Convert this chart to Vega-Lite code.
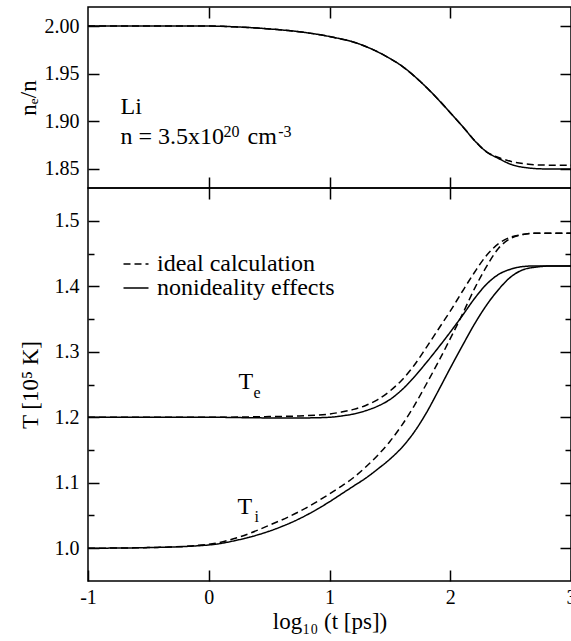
{
  "$schema": "https://vega.github.io/schema/vega-lite/v6.json",
  "padding": {"left": 16, "top": 5, "right": 0, "bottom": 0},
  "spacing": 0,
  "bounds": "flush",
  "datasets": {
    "ne": [
      {"logt": -1, "ratio": 2.0, "model": "ideal calculation"},
      {"logt": -0.5, "ratio": 2.0, "model": "ideal calculation"},
      {"logt": 0, "ratio": 2.0, "model": "ideal calculation"},
      {"logt": 0.25, "ratio": 1.999, "model": "ideal calculation"},
      {"logt": 0.5, "ratio": 1.997, "model": "ideal calculation"},
      {"logt": 0.75, "ratio": 1.994, "model": "ideal calculation"},
      {"logt": 1.0, "ratio": 1.989, "model": "ideal calculation"},
      {"logt": 1.25, "ratio": 1.981, "model": "ideal calculation"},
      {"logt": 1.5, "ratio": 1.966, "model": "ideal calculation"},
      {"logt": 1.6, "ratio": 1.958, "model": "ideal calculation"},
      {"logt": 1.75, "ratio": 1.942, "model": "ideal calculation"},
      {"logt": 1.9, "ratio": 1.923, "model": "ideal calculation"},
      {"logt": 2.0, "ratio": 1.909, "model": "ideal calculation"},
      {"logt": 2.1, "ratio": 1.895, "model": "ideal calculation"},
      {"logt": 2.2, "ratio": 1.88, "model": "ideal calculation"},
      {"logt": 2.3, "ratio": 1.868, "model": "ideal calculation"},
      {"logt": 2.4, "ratio": 1.862, "model": "ideal calculation"},
      {"logt": 2.5, "ratio": 1.858, "model": "ideal calculation"},
      {"logt": 2.65, "ratio": 1.855, "model": "ideal calculation"},
      {"logt": 2.8, "ratio": 1.854, "model": "ideal calculation"},
      {"logt": 3.0, "ratio": 1.854, "model": "ideal calculation"},
      {"logt": -1, "ratio": 2.0, "model": "nonideality effects"},
      {"logt": -0.5, "ratio": 2.0, "model": "nonideality effects"},
      {"logt": 0, "ratio": 2.0, "model": "nonideality effects"},
      {"logt": 0.25, "ratio": 1.999, "model": "nonideality effects"},
      {"logt": 0.5, "ratio": 1.997, "model": "nonideality effects"},
      {"logt": 0.75, "ratio": 1.994, "model": "nonideality effects"},
      {"logt": 1.0, "ratio": 1.989, "model": "nonideality effects"},
      {"logt": 1.25, "ratio": 1.981, "model": "nonideality effects"},
      {"logt": 1.5, "ratio": 1.966, "model": "nonideality effects"},
      {"logt": 1.6, "ratio": 1.958, "model": "nonideality effects"},
      {"logt": 1.75, "ratio": 1.942, "model": "nonideality effects"},
      {"logt": 1.9, "ratio": 1.923, "model": "nonideality effects"},
      {"logt": 2.0, "ratio": 1.909, "model": "nonideality effects"},
      {"logt": 2.1, "ratio": 1.895, "model": "nonideality effects"},
      {"logt": 2.2, "ratio": 1.88, "model": "nonideality effects"},
      {"logt": 2.3, "ratio": 1.868, "model": "nonideality effects"},
      {"logt": 2.4, "ratio": 1.861, "model": "nonideality effects"},
      {"logt": 2.5, "ratio": 1.855, "model": "nonideality effects"},
      {"logt": 2.65, "ratio": 1.851, "model": "nonideality effects"},
      {"logt": 2.8, "ratio": 1.85, "model": "nonideality effects"},
      {"logt": 3.0, "ratio": 1.85, "model": "nonideality effects"}
    ],
    "temp": [
      {"logt": -1, "T": 1.2, "species": "Te", "model": "ideal calculation"},
      {"logt": 0, "T": 1.2, "species": "Te", "model": "ideal calculation"},
      {"logt": 0.5, "T": 1.201, "species": "Te", "model": "ideal calculation"},
      {"logt": 0.75, "T": 1.202, "species": "Te", "model": "ideal calculation"},
      {"logt": 1.0, "T": 1.205, "species": "Te", "model": "ideal calculation"},
      {"logt": 1.1, "T": 1.208, "species": "Te", "model": "ideal calculation"},
      {"logt": 1.2, "T": 1.212, "species": "Te", "model": "ideal calculation"},
      {"logt": 1.3, "T": 1.218, "species": "Te", "model": "ideal calculation"},
      {"logt": 1.4, "T": 1.227, "species": "Te", "model": "ideal calculation"},
      {"logt": 1.5, "T": 1.24, "species": "Te", "model": "ideal calculation"},
      {"logt": 1.6, "T": 1.257, "species": "Te", "model": "ideal calculation"},
      {"logt": 1.7, "T": 1.279, "species": "Te", "model": "ideal calculation"},
      {"logt": 1.8, "T": 1.306, "species": "Te", "model": "ideal calculation"},
      {"logt": 1.9, "T": 1.334, "species": "Te", "model": "ideal calculation"},
      {"logt": 2.0, "T": 1.362, "species": "Te", "model": "ideal calculation"},
      {"logt": 2.1, "T": 1.392, "species": "Te", "model": "ideal calculation"},
      {"logt": 2.2, "T": 1.421, "species": "Te", "model": "ideal calculation"},
      {"logt": 2.3, "T": 1.447, "species": "Te", "model": "ideal calculation"},
      {"logt": 2.4, "T": 1.465, "species": "Te", "model": "ideal calculation"},
      {"logt": 2.5, "T": 1.475, "species": "Te", "model": "ideal calculation"},
      {"logt": 2.6, "T": 1.479, "species": "Te", "model": "ideal calculation"},
      {"logt": 2.7, "T": 1.481, "species": "Te", "model": "ideal calculation"},
      {"logt": 3.0, "T": 1.481, "species": "Te", "model": "ideal calculation"},
      {"logt": -1, "T": 1.2, "species": "Te", "model": "nonideality effects"},
      {"logt": 0, "T": 1.2, "species": "Te", "model": "nonideality effects"},
      {"logt": 0.5, "T": 1.199, "species": "Te", "model": "nonideality effects"},
      {"logt": 0.8, "T": 1.199, "species": "Te", "model": "nonideality effects"},
      {"logt": 1.0, "T": 1.2, "species": "Te", "model": "nonideality effects"},
      {"logt": 1.1, "T": 1.202, "species": "Te", "model": "nonideality effects"},
      {"logt": 1.2, "T": 1.205, "species": "Te", "model": "nonideality effects"},
      {"logt": 1.3, "T": 1.21, "species": "Te", "model": "nonideality effects"},
      {"logt": 1.4, "T": 1.217, "species": "Te", "model": "nonideality effects"},
      {"logt": 1.5, "T": 1.227, "species": "Te", "model": "nonideality effects"},
      {"logt": 1.6, "T": 1.242, "species": "Te", "model": "nonideality effects"},
      {"logt": 1.7, "T": 1.261, "species": "Te", "model": "nonideality effects"},
      {"logt": 1.8, "T": 1.283, "species": "Te", "model": "nonideality effects"},
      {"logt": 1.9, "T": 1.306, "species": "Te", "model": "nonideality effects"},
      {"logt": 2.0, "T": 1.33, "species": "Te", "model": "nonideality effects"},
      {"logt": 2.1, "T": 1.355, "species": "Te", "model": "nonideality effects"},
      {"logt": 2.2, "T": 1.381, "species": "Te", "model": "nonideality effects"},
      {"logt": 2.3, "T": 1.403, "species": "Te", "model": "nonideality effects"},
      {"logt": 2.4, "T": 1.418, "species": "Te", "model": "nonideality effects"},
      {"logt": 2.5, "T": 1.426, "species": "Te", "model": "nonideality effects"},
      {"logt": 2.6, "T": 1.43, "species": "Te", "model": "nonideality effects"},
      {"logt": 2.7, "T": 1.431, "species": "Te", "model": "nonideality effects"},
      {"logt": 3.0, "T": 1.431, "species": "Te", "model": "nonideality effects"},
      {"logt": -1, "T": 1.0, "species": "Ti", "model": "ideal calculation"},
      {"logt": -0.5, "T": 1.001, "species": "Ti", "model": "ideal calculation"},
      {"logt": 0, "T": 1.006, "species": "Ti", "model": "ideal calculation"},
      {"logt": 0.25, "T": 1.017, "species": "Ti", "model": "ideal calculation"},
      {"logt": 0.5, "T": 1.035, "species": "Ti", "model": "ideal calculation"},
      {"logt": 0.75, "T": 1.056, "species": "Ti", "model": "ideal calculation"},
      {"logt": 1.0, "T": 1.083, "species": "Ti", "model": "ideal calculation"},
      {"logt": 1.1, "T": 1.095, "species": "Ti", "model": "ideal calculation"},
      {"logt": 1.2, "T": 1.108, "species": "Ti", "model": "ideal calculation"},
      {"logt": 1.3, "T": 1.124, "species": "Ti", "model": "ideal calculation"},
      {"logt": 1.4, "T": 1.142, "species": "Ti", "model": "ideal calculation"},
      {"logt": 1.5, "T": 1.163, "species": "Ti", "model": "ideal calculation"},
      {"logt": 1.6, "T": 1.188, "species": "Ti", "model": "ideal calculation"},
      {"logt": 1.7, "T": 1.217, "species": "Ti", "model": "ideal calculation"},
      {"logt": 1.8, "T": 1.25, "species": "Ti", "model": "ideal calculation"},
      {"logt": 1.9, "T": 1.284, "species": "Ti", "model": "ideal calculation"},
      {"logt": 2.0, "T": 1.32, "species": "Ti", "model": "ideal calculation"},
      {"logt": 2.1, "T": 1.357, "species": "Ti", "model": "ideal calculation"},
      {"logt": 2.2, "T": 1.396, "species": "Ti", "model": "ideal calculation"},
      {"logt": 2.3, "T": 1.43, "species": "Ti", "model": "ideal calculation"},
      {"logt": 2.4, "T": 1.458, "species": "Ti", "model": "ideal calculation"},
      {"logt": 2.5, "T": 1.473, "species": "Ti", "model": "ideal calculation"},
      {"logt": 2.6, "T": 1.479, "species": "Ti", "model": "ideal calculation"},
      {"logt": 2.7, "T": 1.481, "species": "Ti", "model": "ideal calculation"},
      {"logt": 3.0, "T": 1.481, "species": "Ti", "model": "ideal calculation"},
      {"logt": -1, "T": 1.0, "species": "Ti", "model": "nonideality effects"},
      {"logt": -0.5, "T": 1.001, "species": "Ti", "model": "nonideality effects"},
      {"logt": 0, "T": 1.005, "species": "Ti", "model": "nonideality effects"},
      {"logt": 0.25, "T": 1.013, "species": "Ti", "model": "nonideality effects"},
      {"logt": 0.5, "T": 1.026, "species": "Ti", "model": "nonideality effects"},
      {"logt": 0.75, "T": 1.045, "species": "Ti", "model": "nonideality effects"},
      {"logt": 1.0, "T": 1.071, "species": "Ti", "model": "nonideality effects"},
      {"logt": 1.1, "T": 1.083, "species": "Ti", "model": "nonideality effects"},
      {"logt": 1.2, "T": 1.095, "species": "Ti", "model": "nonideality effects"},
      {"logt": 1.3, "T": 1.107, "species": "Ti", "model": "nonideality effects"},
      {"logt": 1.4, "T": 1.121, "species": "Ti", "model": "nonideality effects"},
      {"logt": 1.5, "T": 1.136, "species": "Ti", "model": "nonideality effects"},
      {"logt": 1.6, "T": 1.154, "species": "Ti", "model": "nonideality effects"},
      {"logt": 1.7, "T": 1.177, "species": "Ti", "model": "nonideality effects"},
      {"logt": 1.8, "T": 1.206, "species": "Ti", "model": "nonideality effects"},
      {"logt": 1.9, "T": 1.24, "species": "Ti", "model": "nonideality effects"},
      {"logt": 2.0, "T": 1.275, "species": "Ti", "model": "nonideality effects"},
      {"logt": 2.1, "T": 1.309, "species": "Ti", "model": "nonideality effects"},
      {"logt": 2.2, "T": 1.342, "species": "Ti", "model": "nonideality effects"},
      {"logt": 2.3, "T": 1.371, "species": "Ti", "model": "nonideality effects"},
      {"logt": 2.4, "T": 1.395, "species": "Ti", "model": "nonideality effects"},
      {"logt": 2.5, "T": 1.414, "species": "Ti", "model": "nonideality effects"},
      {"logt": 2.6, "T": 1.425, "species": "Ti", "model": "nonideality effects"},
      {"logt": 2.7, "T": 1.429, "species": "Ti", "model": "nonideality effects"},
      {"logt": 2.85, "T": 1.431, "species": "Ti", "model": "nonideality effects"},
      {"logt": 3.0, "T": 1.431, "species": "Ti", "model": "nonideality effects"}
    ],
    "topMain": [
      {"logt": -0.731, "ratio": 1.9077, "label": "Li"},
      {"logt": -0.731, "ratio": 1.876, "label": "n = 3.5x10"},
      {"logt": 0.321, "ratio": 1.876, "label": "cm"}
    ],
    "topSup": [
      {"logt": 0.122, "ratio": 1.8835, "label": "20"},
      {"logt": 0.575, "ratio": 1.8835, "label": "-3"}
    ],
    "botMain": [
      {"logt": 0.246, "T": 1.2425, "label": "T"},
      {"logt": 0.238, "T": 1.052, "label": "T"}
    ],
    "botSub": [
      {"logt": 0.371, "T": 1.23, "label": "e"},
      {"logt": 0.379, "T": 1.04, "label": "i"}
    ]
  },
  "vconcat": [
    {
      "width": 483,
      "height": 181,
      "layer": [
        {
          "data": {"name": "ne"},
          "mark": {"type": "line", "color": "black", "strokeWidth": 1.5, "interpolate": "monotone"},
          "encoding": {
            "x": {"field": "logt", "type": "quantitative", "scale": {"domain": [-1, 3], "nice": false, "zero": false},
                  "axis": {"orient": "bottom", "values": [0, 1, 2], "labels": false, "tickSize": -11, "title": null, "minExtent": 0, "maxExtent": 0}},
            "y": {"field": "ratio", "type": "quantitative", "scale": {"domain": [1.83, 2.02], "nice": false, "zero": false},
                  "axis": {"orient": "left", "values": [1.85, 1.9, 1.95, 2.0], "format": ".2f", "tickSize": -11, "labelPadding": 20, "title": "nₑ/n", "titlePadding": 4}},
            "strokeDash": {"field": "model", "type": "nominal",
                           "scale": {"domain": ["ideal calculation", "nonideality effects"], "range": [[7, 4], [1, 0]]},
                           "legend": null}
          }
        },
        {
          "data": {"name": "topMain"},
          "mark": {"type": "text", "align": "left", "baseline": "alphabetic", "fontSize": 24, "color": "black"},
          "encoding": {
            "x": {"field": "logt", "type": "quantitative",
                  "axis": {"orient": "top", "values": [0, 1, 2], "labels": false, "tickSize": -11, "title": null, "minExtent": 0, "maxExtent": 0}},
            "y": {"field": "ratio", "type": "quantitative",
                  "axis": {"orient": "right", "values": [1.85, 1.9, 1.95, 2.0], "labels": false, "tickSize": -11, "title": null, "minExtent": 0, "maxExtent": 0}},
            "text": {"field": "label"}
          }
        },
        {
          "data": {"name": "topSup"},
          "mark": {"type": "text", "align": "left", "baseline": "alphabetic", "fontSize": 16, "color": "black"},
          "encoding": {
            "x": {"field": "logt", "type": "quantitative", "axis": null},
            "y": {"field": "ratio", "type": "quantitative", "axis": null},
            "text": {"field": "label"}
          }
        }
      ],
      "resolve": {"axis": {"x": "independent", "y": "independent"}}
    },
    {
      "width": 483,
      "height": 393,
      "layer": [
        {
          "data": {"name": "temp"},
          "mark": {"type": "line", "color": "black", "strokeWidth": 1.5, "interpolate": "monotone"},
          "encoding": {
            "x": {"field": "logt", "type": "quantitative", "scale": {"domain": [-1, 3], "nice": false, "zero": false},
                  "axis": {"orient": "bottom", "values": [-1, 0, 1, 2, 3], "tickSize": -11, "labelPadding": 17,
                           "labelExpr": "replace(datum.label, '−', '-')",
                           "title": "log₁₀ (t [ps])", "titlePadding": 3}},
            "y": {"field": "T", "type": "quantitative", "scale": {"domain": [0.95, 1.55], "nice": false, "zero": false},
                  "axis": {"orient": "left", "values": [1.0, 1.05, 1.1, 1.15, 1.2, 1.25, 1.3, 1.35, 1.4, 1.45, 1.5],
                           "labelExpr": "round(datum.value*100) % 10 == 0 ? format(datum.value, '.1f') : ''",
                           "tickSize": {"condition": {"test": "round(datum.value*100) % 10 != 0", "value": -6}, "value": -11},
                           "labelPadding": 20, "title": "T [10⁵ K]", "titlePadding": 12}},
            "strokeDash": {"field": "model", "type": "nominal",
                           "scale": {"domain": ["ideal calculation", "nonideality effects"], "range": [[7, 4], [1, 0]]},
                           "legend": {"orient": "none", "legendX": 36, "legendY": 64, "title": null,
                                      "symbolType": "M-1.25,0H1.25", "symbolSize": 400, "symbolStrokeWidth": 1.5,
                                      "symbolStrokeColor": "black", "symbolFillColor": "transparent", "labelFontSize": 24,
                                      "labelOffset": 9, "rowPadding": 0, "padding": 0, "labelLimit": 0}},
            "detail": {"field": "species", "type": "nominal"}
          }
        },
        {
          "data": {"name": "botMain"},
          "mark": {"type": "text", "align": "left", "baseline": "alphabetic", "fontSize": 24, "color": "black"},
          "encoding": {
            "x": {"field": "logt", "type": "quantitative",
                  "axis": {"orient": "top", "values": [0, 1, 2], "labels": false, "tickSize": -11, "title": null, "minExtent": 0, "maxExtent": 0}},
            "y": {"field": "T", "type": "quantitative",
                  "axis": {"orient": "right", "values": [1.0, 1.05, 1.1, 1.15, 1.2, 1.25, 1.3, 1.35, 1.4, 1.45, 1.5], "labels": false,
                           "tickSize": {"condition": {"test": "round(datum.value*100) % 10 != 0", "value": -6}, "value": -11},
                           "title": null, "minExtent": 0, "maxExtent": 0}},
            "text": {"field": "label"}
          }
        },
        {
          "data": {"name": "botSub"},
          "mark": {"type": "text", "align": "left", "baseline": "alphabetic", "fontSize": 16, "color": "black"},
          "encoding": {
            "x": {"field": "logt", "type": "quantitative", "axis": null},
            "y": {"field": "T", "type": "quantitative", "axis": null},
            "text": {"field": "label"}
          }
        }
      ],
      "resolve": {"axis": {"x": "independent", "y": "independent"}}
    }
  ],
  "resolve": {"scale": {"strokeDash": "independent"}, "legend": {"strokeDash": "independent"}},
  "config": {
    "font": "Liberation Serif, Times New Roman, DejaVu Serif, serif",
    "view": {"stroke": "black", "strokeWidth": 1.5},
    "text": {"font": "Liberation Serif, Times New Roman, DejaVu Serif, serif"},
    "axis": {
      "labelFont": "Liberation Serif, Times New Roman, DejaVu Serif, serif", "labelFontSize": 20, "labelColor": "black",
      "titleFont": "Liberation Serif, Times New Roman, DejaVu Serif, serif", "titleFontSize": 23, "titleFontWeight": "normal", "titleColor": "black",
      "tickColor": "black", "tickWidth": 1.5, "grid": false, "domain": false,
      "labelFlush": false, "labelOverlap": false
    },
    "legend": {"labelColor": "black", "labelFont": "Liberation Serif, Times New Roman, DejaVu Serif, serif"}
  }
}
